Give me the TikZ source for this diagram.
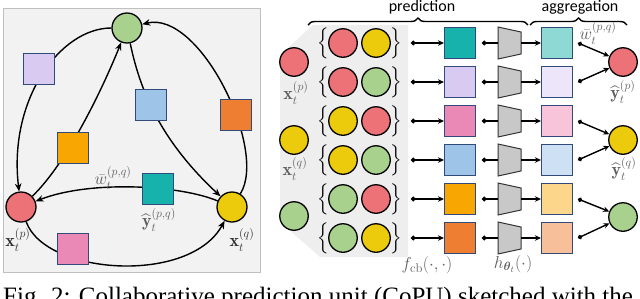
\documentclass[tikz,border=0pt]{standalone}
\usepackage{amsmath}
\usepackage{fontspec}
\newfontfamily\carlito{Carlito}
\newfontfamily\capfont{Liberation Serif}
\usetikzlibrary{arrows.meta,decorations.pathreplacing}
\definecolor{cred}{HTML}{EC7278}
\definecolor{cyel}{HTML}{EBCB0C}
\definecolor{cgrn}{HTML}{A9D18E}
\definecolor{cteal}{HTML}{17B2AC}
\definecolor{lteal}{HTML}{8FD9D5}
\definecolor{clav}{HTML}{D9CAF2}
\definecolor{llav}{HTML}{EDE5F9}
\definecolor{cpink}{HTML}{EA88B6}
\definecolor{lpink}{HTML}{F7C4DA}
\definecolor{cblue}{HTML}{9EC4E7}
\definecolor{lblue}{HTML}{CEE1F4}
\definecolor{camb}{HTML}{F8A602}
\definecolor{lamb}{HTML}{FCD68B}
\definecolor{corg}{HTML}{EE7E32}
\definecolor{lorg}{HTML}{F8C09A}
\definecolor{sqborder}{HTML}{2F4A7B}
\definecolor{boxfill}{HTML}{F2F2F2}
\definecolor{boxline}{HTML}{BFBFBF}
\definecolor{panelfill}{HTML}{EEEEEE}
\definecolor{trapfill}{HTML}{C8C8C8}
\definecolor{labdark}{HTML}{303030}
\definecolor{labgray}{HTML}{5E5E5E}
\begin{document}
\begin{tikzpicture}[x=1pt,y=-1pt,
  circ/.style={circle,draw=black,line width=1.3pt,minimum size=30pt,inner sep=0pt},
  rcirc/.style={circ,minimum size=28.5pt},
  sq/.style={rectangle,draw=sqborder,line width=1.1pt,minimum size=31pt,inner sep=0pt},
  arr/.style={line width=1.4pt,-{Stealth[length=8pt,width=6.5pt,inset=2.5pt]}},
  rarr/.style={line width=1.4pt,{Circle[length=4.5pt]}-{Stealth[length=6pt,width=5.5pt]}},
  lab/.style={font=\fontsize{18}{20}\selectfont,text=labdark,inner sep=0pt},
  glab/.style={lab,text=labgray},
  brc/.style={font=\fontsize{16}{18}\selectfont,inner sep=0pt},
  trap/.style={draw=black!80,fill=trapfill,line width=1pt},
  title/.style={font=\carlito\fontsize{16}{18}\selectfont,inner sep=0pt},
  topbrace/.style={decorate,decoration={brace,amplitude=7pt},line width=1.4pt},
]
\useasboundingbox (0,0) rectangle (640,298);
% ---------- left panel ----------
\draw[draw=boxline,fill=boxfill,line width=1pt] (3,8) rectangle (260,272);
\node[circ,fill=cgrn] (G) at (127,28) {};
\node[circ,fill=cred] (R) at (21,207) {};
\node[circ,fill=cyel] (Y) at (232,207) {};
\draw[arr] (G) .. controls (60,28) and (8,100) .. (R);
\draw[arr] (Y) .. controls (268,150) and (200,10) .. (G);
\draw[arr] (R) .. controls (45,275) and (190,285) .. (Y);
\draw[arr] (R) .. controls (65,165) and (100,95) .. (G);
\draw[arr] (G) .. controls (140,90) and (160,140) .. (Y);
\draw[arr] (Y) .. controls (180,185) and (90,180) .. (R);
\node[sq,fill=clav] (Slav) at (39,69) {};
\node[sq,fill=cblue] (Sblu) at (151,105) {};
\node[sq,fill=corg] (Sorg) at (236,115) {};
\node[sq,fill=camb] (Samb) at (73,148) {};
\node[sq,fill=cteal] (Steal) at (158,189) {};
\node[sq,fill=cpink] (Spink) at (73,249) {};
\node[glab] (wl) at (113,178) {$\bar{w}_t^{(p,q)}$};
\node[glab] (yl) at (159,220) {$\widehat{\mathbf{y}}_t^{(p,q)}$};
\node[lab] (xpl) at (18,240) {$\mathbf{x}_t^{(p)}$};
\node[lab] (xql) at (242,240) {$\mathbf{x}_t^{(q)}$};
% ---------- right panel ----------
\fill[panelfill] (313,25) -- (408,25) -- (408,257) -- (320,257) -- (280,222) -- (280,55) -- cycle;
\node[rcirc,fill=cred] (IR) at (294,62) {};
\node[rcirc,fill=cyel] (IY) at (294,140) {};
\node[rcirc,fill=cgrn] (IG) at (294,216) {};
\node[glab] (xpr) at (296,93) {$\mathbf{x}_t^{(p)}$};
\node[glab] (xqr) at (295,169) {$\mathbf{x}_t^{(q)}$};
\node[rcirc,fill=cred] (OR) at (623,62) {};
\node[rcirc,fill=cyel] (OY) at (623,140) {};
\node[rcirc,fill=cgrn] (OG) at (623,217) {};
\foreach \i/\y/\ca/\cb/\cs/\cl/\o in {1/43/cred/cyel/cteal/lteal/OR,2/82/cred/cgrn/clav/llav/OR,3/121/cyel/cred/cpink/lpink/OY,4/160/cyel/cgrn/cblue/lblue/OY,5/199/cgrn/cred/camb/lamb/OG,6/238/cgrn/cyel/corg/lorg/OG}{
  \node[brc] (lb\i) at (324,\y) {$\left\{\vrule height 17pt depth 9pt width 0pt\right.$};
  \node[rcirc,fill=\ca] (pa\i) at (343,\y) {};
  \node[rcirc,fill=\cb] (pb\i) at (376,\y) {};
  \node[brc] (rb\i) at (396,\y) {$\left.\vrule height 17pt depth 9pt width 0pt\right\}$};
  \coordinate (da\i) at (411,\y);
  \node[sq,fill=\cs] (s\i) at (460,\y) {};
  \coordinate (db\i) at (482,\y);
  \coordinate (tl\i) at (498,\y);
  \coordinate (tr\i) at (521,\y);
  \draw[trap] (498,\y-16) -- (521,\y-11) -- (521,\y+11) -- (498,\y+16) -- cycle;
  \node[sq,fill=\cl] (t\i) at (557,\y) {};
  \coordinate (dc\i) at (578,\y);
  \draw[rarr] (da\i) -- (s\i);
  \draw[line width=1.4pt,{Circle[length=4.5pt]}-] (db\i) -- (tl\i);
  \draw[line width=1.4pt,-{Stealth[length=6pt,width=5.5pt]}] (tr\i) -- (t\i);
  \draw[rarr] (dc\i) -- (\o);
}
\node[glab] (wr) at (598,33) {$\bar{w}_t^{(p,q)}$};
\node[glab] (ypr) at (623,92) {$\widehat{\mathbf{y}}_t^{(p)}$};
\node[glab] (yqr) at (624,169) {$\widehat{\mathbf{y}}_t^{(q)}$};
\node[glab] (fcb) at (427,265) {$f_{\mathrm{cb}}(\cdot,\cdot)$};
\node[glab] (hth) at (513,264) {$h_{\boldsymbol{\theta}_t}(\cdot)$};
\coordinate (pb1) at (308,25);
\coordinate (pb2) at (528,25);
\coordinate (ab1) at (530,25);
\coordinate (ab2) at (627,25);
\draw[topbrace] (pb1) -- (pb2);
\draw[topbrace] (ab1) -- (ab2);
\node[title] (pred) at (422,7) {prediction};
\node[title] (aggr) at (580,7) {aggregation};
% caption (cut off at the bottom)
\node[anchor=base west,font=\capfont\fontsize{25}{27}\selectfont,inner sep=0pt] (cap) at (3,304) {Fig. 2: Collaborative prediction unit (CoPU) sketched with the};
\end{tikzpicture}
\end{document}
